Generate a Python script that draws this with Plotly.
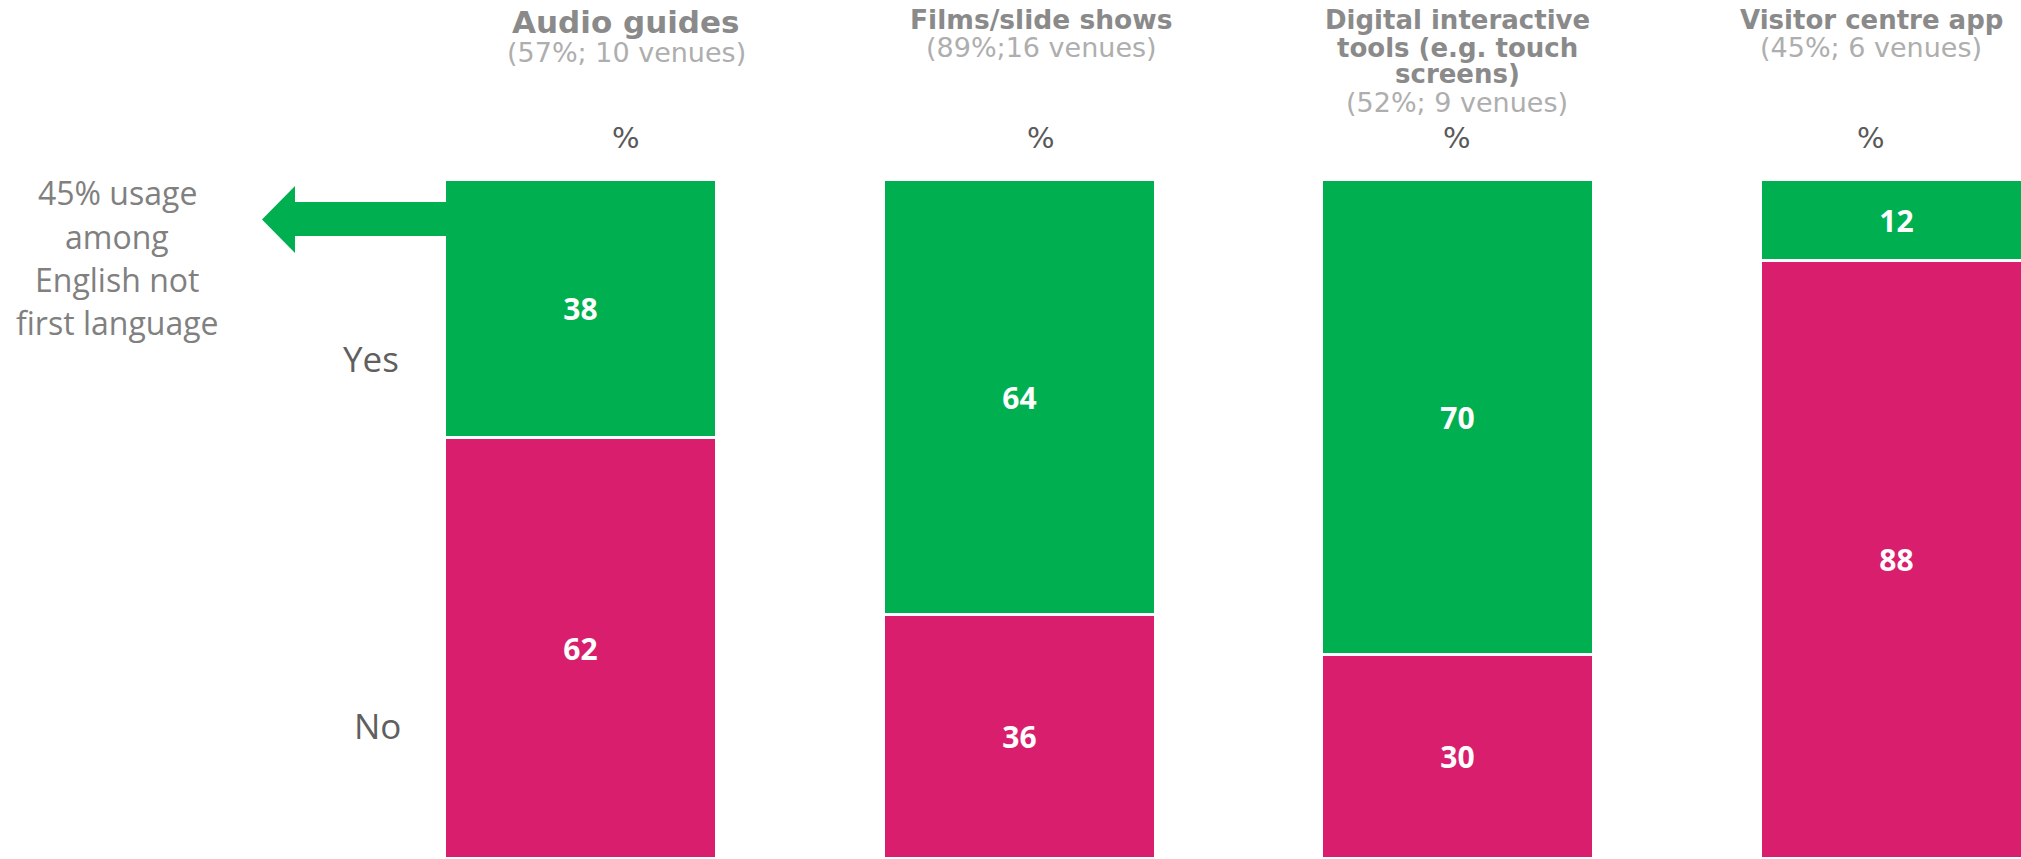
import plotly.graph_objects as go

# ---- data -------------------------------------------------------------
title_lines = [
    ["Audio guides"],
    ["Films/slide shows"],
    ["Digital interactive", "tools (e.g. touch", "screens)"],
    ["Visitor centre app"],
]
subtitles = ["(57%; 10 venues)", "(89%;16 venues)", "(52%; 9 venues)", "(45%; 6 venues)"]
yes_vals = [38, 64, 70, 12]
no_vals = [62, 36, 30, 88]
row_labels = ["Yes", "No"]
note_lines = ["45% usage", "among", "English not", "first language"]

# ---- canvas / scales --------------------------------------------------
W, H = 2021, 859
GREEN = "#00B050"
PINK = "#D81E6C"

x_pos = list(range(len(yes_vals)))
X0, X1 = -1.3245, 3.2826      # horizontal extent of the plotting window
Y0, Y1 = 0, 126.5             # vertical extent (bars fill 0..100)


def px_x(px):
    return px / W


def px_y(py):
    return 1 - py / H


fig = go.Figure()

bar_font = dict(family="Open Sans", size=30, color="white", weight="bold")
fig.add_trace(go.Bar(
    x=x_pos, y=no_vals, name=row_labels[1],
    marker=dict(color=PINK, line=dict(color="white", width=3)),
    width=0.62,
    text=[str(v) for v in no_vals], textposition="inside",
    insidetextanchor="middle", textangle=0, textfont=bar_font,
    hoverinfo="skip",
))
fig.add_trace(go.Bar(
    x=x_pos, y=yes_vals, name=row_labels[0],
    marker=dict(color=GREEN, line=dict(color="white", width=3)),
    width=0.62,
    text=[str(v) for v in yes_vals], textposition="inside",
    insidetextanchor="middle", textangle=0, textfont=bar_font,
    hoverinfo="skip",
))

annotations = []

# column headings: bold title lines, then grey venue count, then "%"
col_cx = [626, 1041, 1457, 1871]
title_sizes = [31, 26.5, 26, 26]
for i, lines in enumerate(title_lines):
    n = len(lines)
    if n == 3:
        ys, sy = [20, 48, 74], 102.5
    elif i == 0:
        ys, sy = [22], 52.5
    else:
        ys, sy = [20], 47.5
    for line, yy in zip(lines, ys):
        annotations.append(dict(
            x=px_x(col_cx[i]), y=px_y(yy), xref="paper", yref="paper",
            text=f"<b>{line}</b>", showarrow=False, xanchor="center", yanchor="middle",
            font=dict(family="DejaVu Sans", size=title_sizes[i], color="#8A8A8A"),
        ))
    annotations.append(dict(
        x=px_x(col_cx[i]), y=px_y(sy), xref="paper", yref="paper",
        text=subtitles[i], showarrow=False, xanchor="center", yanchor="middle",
        font=dict(family="DejaVu Sans", size=27, color="#AEAEAE"),
    ))
    annotations.append(dict(
        x=px_x(col_cx[i]), y=px_y(138), xref="paper", yref="paper",
        text="%", showarrow=False, xanchor="center", yanchor="middle",
        font=dict(family="DejaVu Sans", size=29, color="#595959"),
    ))

# row labels on the left of the first bar
for lab, (lx, ly) in zip(row_labels, [(371, 358), (377, 725)]):
    annotations.append(dict(
        x=px_x(lx), y=px_y(ly), xref="paper", yref="paper",
        text=lab, showarrow=False, xanchor="center", yanchor="middle",
        font=dict(family="Open Sans", size=35, color="#5F5F5F"),
    ))

# side note
note_y = [193, 236, 279, 322]
for line, ny in zip(note_lines, note_y):
    annotations.append(dict(
        x=px_x(117), y=px_y(ny), xref="paper", yref="paper",
        text=line, showarrow=False, xanchor="center", yanchor="middle",
        font=dict(family="Open Sans", size=32, color="#808080"),
    ))

# block arrow from the first bar towards the note
pts = [(452, 202), (295, 202), (295, 186), (262, 219.5), (295, 253), (295, 236), (452, 236)]
path = "M " + " L ".join(f"{px_x(a):.5f},{px_y(b):.5f}" for a, b in pts) + " Z"
shapes = [dict(type="path", path=path, xref="paper", yref="paper",
               fillcolor=GREEN, line=dict(width=0), layer="above")]

fig.update_layout(
    width=W, height=H,
    margin=dict(l=0, r=0, t=0, b=0),
    paper_bgcolor="white", plot_bgcolor="white",
    barmode="stack", bargap=0,
    showlegend=False,
    xaxis=dict(range=[X0, X1], visible=False, fixedrange=True),
    yaxis=dict(range=[Y0, Y1], visible=False, fixedrange=True),
    annotations=annotations,
    shapes=shapes,
)

fig.write_html("out.html")
